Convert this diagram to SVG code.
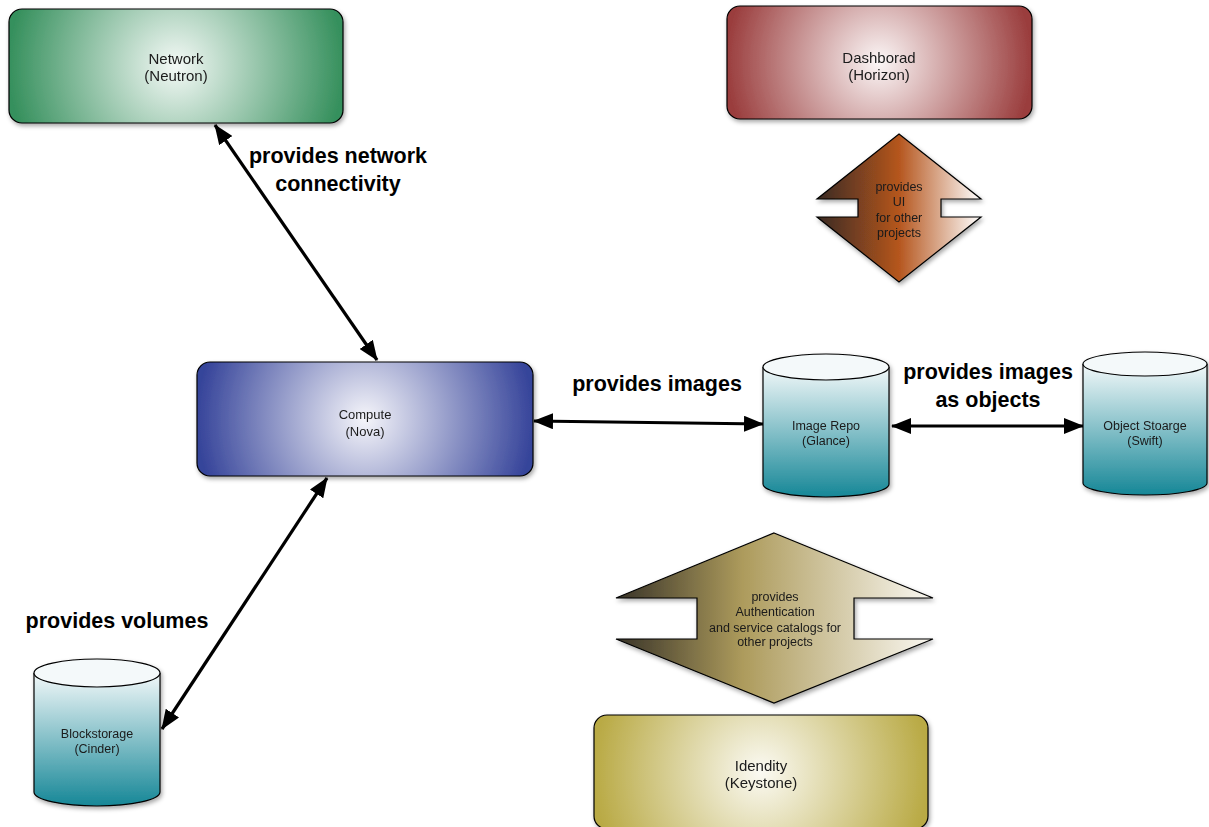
<svg xmlns="http://www.w3.org/2000/svg" width="1209" height="827" viewBox="0 0 1209 827">
<defs>
<style>
.t{font-family:"Liberation Sans",Arial,sans-serif;fill:#1a1a1a;text-anchor:middle}
.lbl{font-family:"Liberation Sans",Arial,sans-serif;font-weight:bold;font-size:21.5px;fill:#000;text-anchor:middle}
.box{stroke:#000;stroke-width:1.2}
.conn{stroke:#000;stroke-width:3.2;fill:none;marker-start:url(#ah);marker-end:url(#ah)}
</style>
<filter id="sh" x="-10%" y="-10%" width="130%" height="130%">
<feDropShadow dx="1.5" dy="2.5" stdDeviation="2" flood-color="#000" flood-opacity="0.35"/>
</filter>
<marker id="ah" viewBox="0 0 20 16" refX="19" refY="8" markerWidth="20" markerHeight="16" markerUnits="userSpaceOnUse" orient="auto-start-reverse">
<path d="M0,0 L20,8 L0,16 Z" fill="#000"/>
</marker>
<radialGradient id="gNet" gradientUnits="userSpaceOnUse" cx="176" cy="66" r="167"><stop offset="0" stop-color="#f4f9f6"/><stop offset="1" stop-color="#36905d"/></radialGradient>
<radialGradient id="gDash" gradientUnits="userSpaceOnUse" cx="879" cy="62" r="153"><stop offset="0" stop-color="#fbf6f6"/><stop offset="1" stop-color="#9a3d3d"/></radialGradient>
<radialGradient id="gComp" gradientUnits="userSpaceOnUse" cx="365" cy="419" r="168"><stop offset="0" stop-color="#f5f5fa"/><stop offset="1" stop-color="#36449a"/></radialGradient>
<radialGradient id="gKey" gradientUnits="userSpaceOnUse" cx="761" cy="772" r="167"><stop offset="0" stop-color="#fbfaf3"/><stop offset="1" stop-color="#b9aa45"/></radialGradient>
<linearGradient id="gCyl" x1="0" y1="0" x2="0" y2="1"><stop offset="0" stop-color="#f2f8f9"/><stop offset="1" stop-color="#168797"/></linearGradient>
<linearGradient id="gHor" x1="0" y1="0" x2="1" y2="0"><stop offset="0" stop-color="#3a2a22"/><stop offset="0.5" stop-color="#b5561e"/><stop offset="1" stop-color="#ffffff"/></linearGradient>
<linearGradient id="gKarr" x1="0" y1="0" x2="1" y2="0"><stop offset="0" stop-color="#383328"/><stop offset="0.4" stop-color="#ad9b5c"/><stop offset="1" stop-color="#faf8f2"/></linearGradient>
</defs>
<rect width="1209" height="827" fill="#fff"/>

<g id="connectors">
<line class="conn" x1="377" y1="360" x2="215" y2="125"/>
<line class="conn" x1="534" y1="421" x2="763" y2="424"/>
<line class="conn" x1="892" y1="426" x2="1083" y2="426"/>
<line class="conn" x1="327" y1="478" x2="162" y2="729"/>
<text class="lbl" x="338" y="163">provides network</text>
<text class="lbl" x="338" y="191">connectivity</text>
<text class="lbl" x="657" y="391">provides images</text>
<text class="lbl" x="988" y="379">provides images</text>
<text class="lbl" x="988" y="407">as objects</text>
<text class="lbl" x="117" y="628">provides volumes</text>
</g>

<g id="network" filter="url(#sh)">
<rect class="box" x="9" y="9" width="334" height="114" rx="13" fill="url(#gNet)"/>
<text class="t" x="176" y="64" font-size="15">Network</text>
<text class="t" x="176" y="81" font-size="15">(Neutron)</text>
</g>

<g id="dashboard" filter="url(#sh)">
<rect class="box" x="727" y="6" width="305" height="113" rx="13" fill="url(#gDash)"/>
<text class="t" x="879" y="63" font-size="15">Dashborad</text>
<text class="t" x="879" y="80" font-size="15">(Horizon)</text>
</g>

<g id="horizon-arrow" filter="url(#sh)">
<path class="box" d="M899,134 L981,199 L941,199 L941,217 L981,217 L899,282 L817,217 L858,217 L858,199 L817,199 Z" fill="url(#gHor)"/>
<text class="t" x="899" y="190.5" font-size="12.5">provides</text>
<text class="t" x="899" y="205.5" font-size="12.5">UI</text>
<text class="t" x="899" y="221.5" font-size="12.5">for other</text>
<text class="t" x="899" y="236.5" font-size="12.5">projects</text>
</g>

<g id="compute" filter="url(#sh)">
<rect class="box" x="197" y="362" width="336" height="114" rx="13" fill="url(#gComp)"/>
<text class="t" x="365" y="419" font-size="13">Compute</text>
<text class="t" x="365" y="436" font-size="13">(Nova)</text>
</g>

<g id="image-repo" filter="url(#sh)">
<path class="box" d="M763,367 L763,484 A63,13 0 0 0 889,484 L889,367" fill="url(#gCyl)"/>
<ellipse class="box" cx="826" cy="367" rx="63" ry="13" fill="#f4f9fa"/>
<text class="t" x="826" y="429.5" font-size="12.5">Image Repo</text>
<text class="t" x="826" y="444.5" font-size="12.5">(Glance)</text>
</g>

<g id="object-storage" filter="url(#sh)">
<path class="box" d="M1083,364 L1083,483 A62,12 0 0 0 1207,483 L1207,364" fill="url(#gCyl)"/>
<ellipse class="box" cx="1145" cy="364" rx="62" ry="12" fill="#f4f9fa"/>
<text class="t" x="1145" y="429.5" font-size="12.5">Object Stoarge</text>
<text class="t" x="1145" y="444.5" font-size="12.5">(Swift)</text>
</g>

<g id="blockstorage" filter="url(#sh)">
<path class="box" d="M34,673 L34,792 A63,14 0 0 0 160,792 L160,673" fill="url(#gCyl)"/>
<ellipse class="box" cx="97" cy="673" rx="63" ry="14" fill="#f4f9fa"/>
<text class="t" x="97" y="737.5" font-size="12.5">Blockstorage</text>
<text class="t" x="97" y="752.5" font-size="12.5">(Cinder)</text>
</g>

<g id="keystone-arrow" filter="url(#sh)">
<path class="box" d="M774,533 L933,598 L854,598 L854,639 L933,639 L774,703 L616,639 L697,639 L697,598 L616,598 Z" fill="url(#gKarr)"/>
<text class="t" x="775" y="600.5" font-size="12.5">provides</text>
<text class="t" x="775" y="616" font-size="12.5">Authentication</text>
<text class="t" x="775" y="631.5" font-size="12.5">and service catalogs for</text>
<text class="t" x="775" y="646" font-size="12.5">other projects</text>
</g>

<g id="keystone" filter="url(#sh)">
<rect class="box" x="594" y="715" width="334" height="114" rx="13" fill="url(#gKey)"/>
<text class="t" x="761" y="771" font-size="15">Idendity</text>
<text class="t" x="761" y="788" font-size="15">(Keystone)</text>
</g>
</svg>
